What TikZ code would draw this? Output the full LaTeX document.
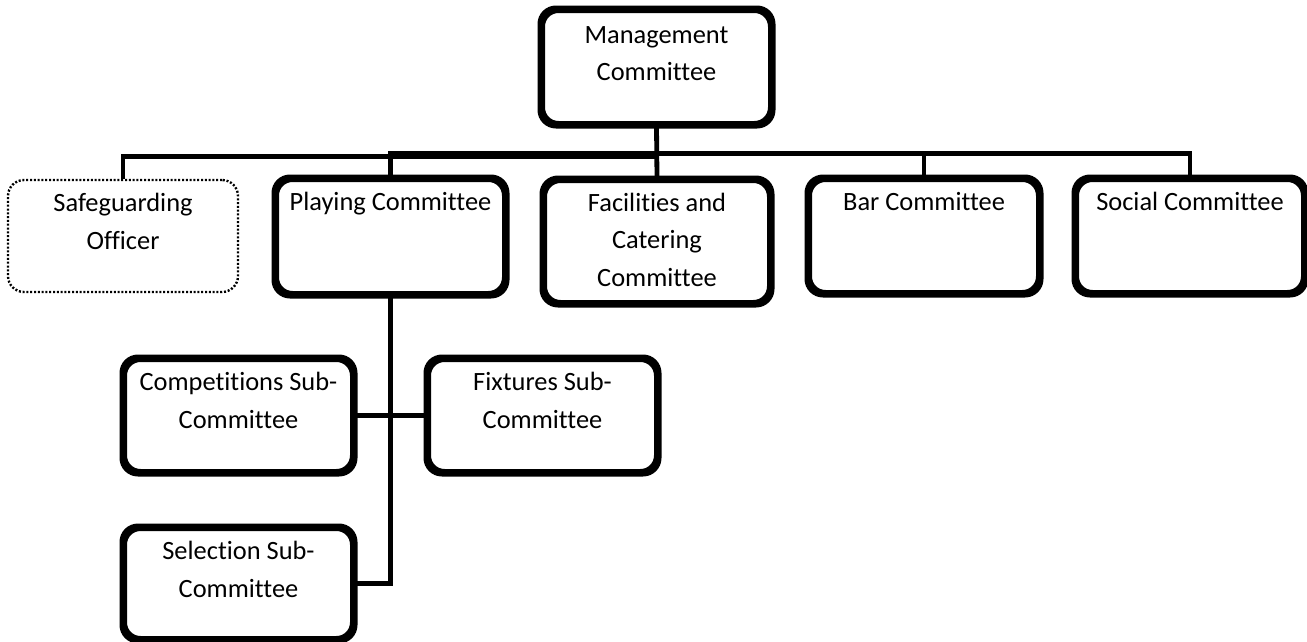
\documentclass[tikz,border=0pt]{standalone}
\usepackage{fontspec}
\setmainfont{Carlito}[Ligatures={NoCommon}]
\begin{document}
\begin{tikzpicture}[x=1pt,y=-1pt,
  box/.style={draw=black, line width=5pt, rounded corners=16pt, rectangle, inner sep=0pt, fill=white},
  dotbox/.style={draw=black, line width=2.4pt, dash pattern=on 2pt off 1.8pt, rounded corners=16pt, rectangle, inner sep=0pt},
  conn/.style={draw=black, line width=4.8pt},
  lbl/.style={anchor=base, inner sep=0pt, font=\fontsize{26.4}{37.5}\selectfont}
]
\useasboundingbox (0,0) rectangle (1307,641);
\fill[white] (0,0) rectangle (1307,641);

% bus coordinates
\coordinate (bus) at (0,153.5);
\coordinate (busA) at (0,156.5);

% boxes
\node[box, minimum width=228pt, minimum height=113pt] (mgmt) at (656.5,67) {};
\node[dotbox, minimum width=230pt, minimum height=112pt] (safe) at (123,236) {};
\node[box, minimum width=228pt, minimum height=114pt] (play) at (390.5,236.5) {};
\node[box, minimum width=225pt, minimum height=122pt] (fac) at (657,241.5) {};
\node[box, minimum width=229pt, minimum height=113pt] (bar) at (924,236) {};
\node[box, minimum width=227pt, minimum height=113pt] (soc) at (1190,236) {};
\node[box, minimum width=228pt, minimum height=112pt] (comp) at (238.5,415.5) {};
\node[box, minimum width=228pt, minimum height=112pt] (fix) at (542.5,415.5) {};
\node[box, minimum width=228pt, minimum height=110pt] (sel) at (238.5,583.5) {};

% connectors
\draw[conn] (safe.north) |- (busA -| mgmt.south);
\draw[conn] (play.north) |- (bus -| soc.north) -- (soc.north);
\draw[conn] (bar.north) -- (bar.north |- bus);
\draw[conn] (mgmt.south) -- (fac.north);
\draw[conn] (play.south) |- (sel.east);
\draw[conn] (comp.east) -- (fix.west);

% redraw box borders on top of connector ends
\foreach \n in {mgmt,play,fac,bar,soc,comp,fix,sel}{
  \draw[black, line width=5pt, rounded corners=16pt] (\n.north west) rectangle (\n.south east);
}

% texts
\node[lbl] (mgmtT) at ([yshift=-35pt]mgmt.north) {\parbox[t]{220pt}{\centering Management\\Committee}};
\node[lbl] (safeT) at ([yshift=-33pt]safe.north) {\parbox[t]{220pt}{\centering Safeguarding\\Officer}};
\node[lbl] (playT) at ([yshift=-33pt]play.north) {\parbox[t]{224pt}{\centering Playing Committee}};
\node[lbl] (facT) at ([yshift=-33pt]fac.north) {\parbox[t]{220pt}{\centering Facilities and\\Catering\\Committee}};
\node[lbl] (barT) at ([yshift=-33pt]bar.north) {\parbox[t]{220pt}{\centering Bar Committee}};
\node[lbl] (socT) at ([yshift=-33pt]soc.north) {\parbox[t]{220pt}{\centering Social Committee}};
\node[lbl] (compT) at ([yshift=-33.5pt]comp.north) {\parbox[t]{224pt}{\centering Competitions Sub-\\Committee}};
\node[lbl] (fixT) at ([yshift=-33.5pt]fix.north) {\parbox[t]{224pt}{\centering Fixtures Sub-\\Committee}};
\node[lbl] (selT) at ([yshift=-33.5pt]sel.north) {\parbox[t]{224pt}{\centering Selection Sub-\\Committee}};
\end{tikzpicture}
\end{document}
